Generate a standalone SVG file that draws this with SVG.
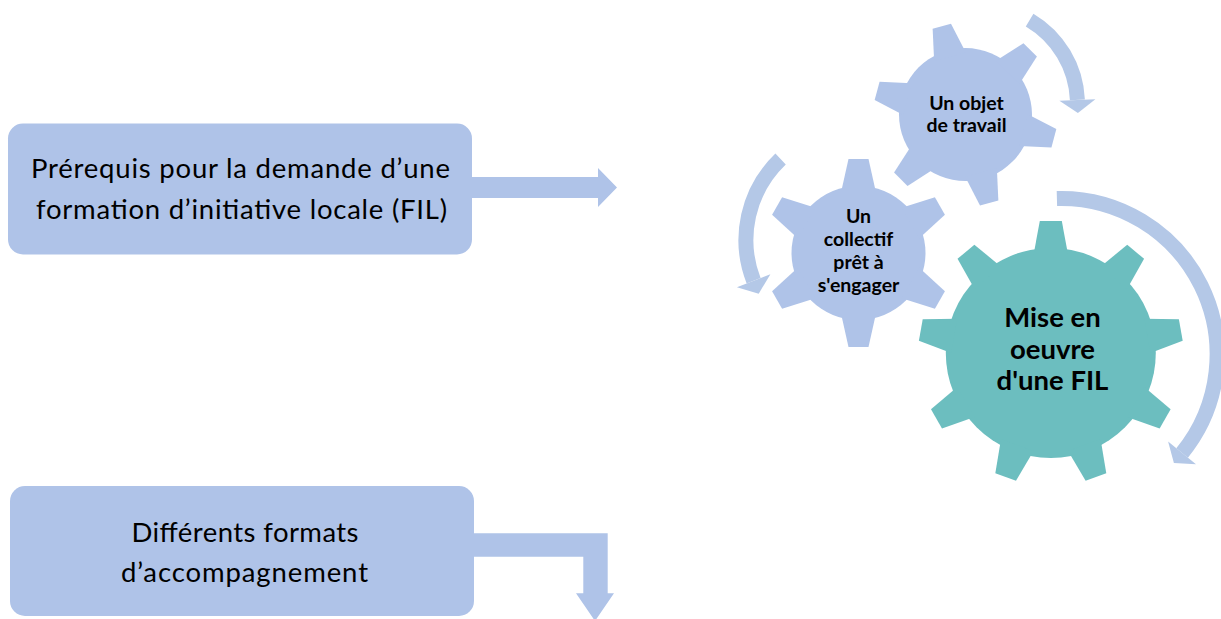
<svg xmlns="http://www.w3.org/2000/svg" xmlns:xlink="http://www.w3.org/1999/xlink" width="1221" height="619" viewBox="0 0 1221 619">
<style>
.box{fill:#AFC3E8;}
.blue{fill:#AFC3E8;}
.teal{fill:#6CBEBF;}
.arc{fill:none;stroke:#B4C8E7;stroke-width:15;stroke-linecap:butt;}
.head{fill:#B4C8E7;}
.bt{font-family:Lato,"Liberation Sans",sans-serif;font-size:27.5px;fill:#000;text-anchor:middle;}
.gt{font-family:Lato,"Liberation Sans",sans-serif;font-weight:bold;font-size:19.5px;fill:#000;text-anchor:middle;}
.gt3{font-family:Lato,"Liberation Sans",sans-serif;font-weight:bold;font-size:27.5px;fill:#000;text-anchor:middle;}
</style>
<defs>
<polygon id="tooth1" points="60,-16.4 91.5,-9.5 91.5,9.5 60,16.4"/>
<polygon id="tooth2" points="60,-17.6 94,-10 94,10 60,17.6"/>
<polygon id="tooth3" points="98,-17.3 132,-11 132,11 98,17.3"/>
</defs>
<rect width="1221" height="619" fill="#FFFFFF"/>

<g id="connectors">
<path class="box" d="M472,177 H598 V168 L617,187.5 L598,207 V198 H472 Z"/>
<path class="box" d="M474,533.3 H607.7 V593.3 H614 L595,621 L576,593.3 H583.3 V556.7 H474 Z"/>
<path class="arc" d="M1029.6,20.1 A97.5,97.5 0 0 1 1077.4,99.9"/>
<polygon class="head" points="1059.4,100.7 1077.9,112.9 1095.4,99.2"/>
<path class="arc" d="M780.6,159 A112,112 0 0 0 753.6,280.7"/>
<polygon class="head" points="770.4,274.2 758.7,293.7 736.9,287.2"/>
<path class="arc" d="M1056.9,198.5 A156,156 0 0 1 1182.1,452.9"/>
<polygon class="head" points="1168.1,441.5 1173.9,463 1196,464.2"/>
</g>

<g id="node-prerequis">
<rect class="box" x="8" y="123.5" width="464" height="131" rx="15"/>
<text class="bt" x="240.5" y="177.5" textLength="419" lengthAdjust="spacing">Prérequis pour la demande d’une</text>
<text class="bt" x="241.5" y="219" textLength="411" lengthAdjust="spacing">formation d’initiative locale (FIL)</text>
</g>

<g id="node-formats">
<rect class="box" x="10" y="486" width="464" height="130" rx="15"/>
<text class="bt" x="245" y="542.3" textLength="227" lengthAdjust="spacing">Différents formats</text>
<text class="bt" x="244.5" y="582.3" textLength="247" lengthAdjust="spacing">d’accompagnement</text>
</g>

<g id="node-objet">
<g class="blue" transform="translate(965.5,114.6)">
<circle r="66.5"/>
<use xlink:href="#tooth1" transform="rotate(15)"/>
<use xlink:href="#tooth1" transform="rotate(75)"/>
<use xlink:href="#tooth1" transform="rotate(135)"/>
<use xlink:href="#tooth1" transform="rotate(195)"/>
<use xlink:href="#tooth1" transform="rotate(255)"/>
<use xlink:href="#tooth1" transform="rotate(315)"/>
</g>
<text class="gt" x="966.5" y="110">Un objet</text>
<text class="gt" x="966.5" y="132.3">de travail</text>
</g>

<g id="node-collectif">
<g class="blue" transform="translate(858.5,253)">
<circle r="67"/>
<use xlink:href="#tooth2" transform="rotate(-90)"/>
<use xlink:href="#tooth2" transform="rotate(-30)"/>
<use xlink:href="#tooth2" transform="rotate(30)"/>
<use xlink:href="#tooth2" transform="rotate(90)"/>
<use xlink:href="#tooth2" transform="rotate(150)"/>
<use xlink:href="#tooth2" transform="rotate(210)"/>
</g>
<text class="gt" x="858.5" y="222.7">Un</text>
<text class="gt" x="858.5" y="246">collectif</text>
<text class="gt" x="858.5" y="269.3">prêt à</text>
<text class="gt" x="858.5" y="291.5">s'engager</text>
</g>

<g id="node-fil">
<g class="teal" transform="translate(1050.8,352.9)">
<circle r="105"/>
<use xlink:href="#tooth3" transform="rotate(-90)"/>
<use xlink:href="#tooth3" transform="rotate(-50)"/>
<use xlink:href="#tooth3" transform="rotate(-10)"/>
<use xlink:href="#tooth3" transform="rotate(30)"/>
<use xlink:href="#tooth3" transform="rotate(70)"/>
<use xlink:href="#tooth3" transform="rotate(110)"/>
<use xlink:href="#tooth3" transform="rotate(150)"/>
<use xlink:href="#tooth3" transform="rotate(190)"/>
<use xlink:href="#tooth3" transform="rotate(230)"/>
</g>
<text class="gt3" x="1052.5" y="327">Mise en</text>
<text class="gt3" x="1052.5" y="358.5">oeuvre</text>
<text class="gt3" x="1052.5" y="390">d'une FIL</text>
</g>
</svg>
